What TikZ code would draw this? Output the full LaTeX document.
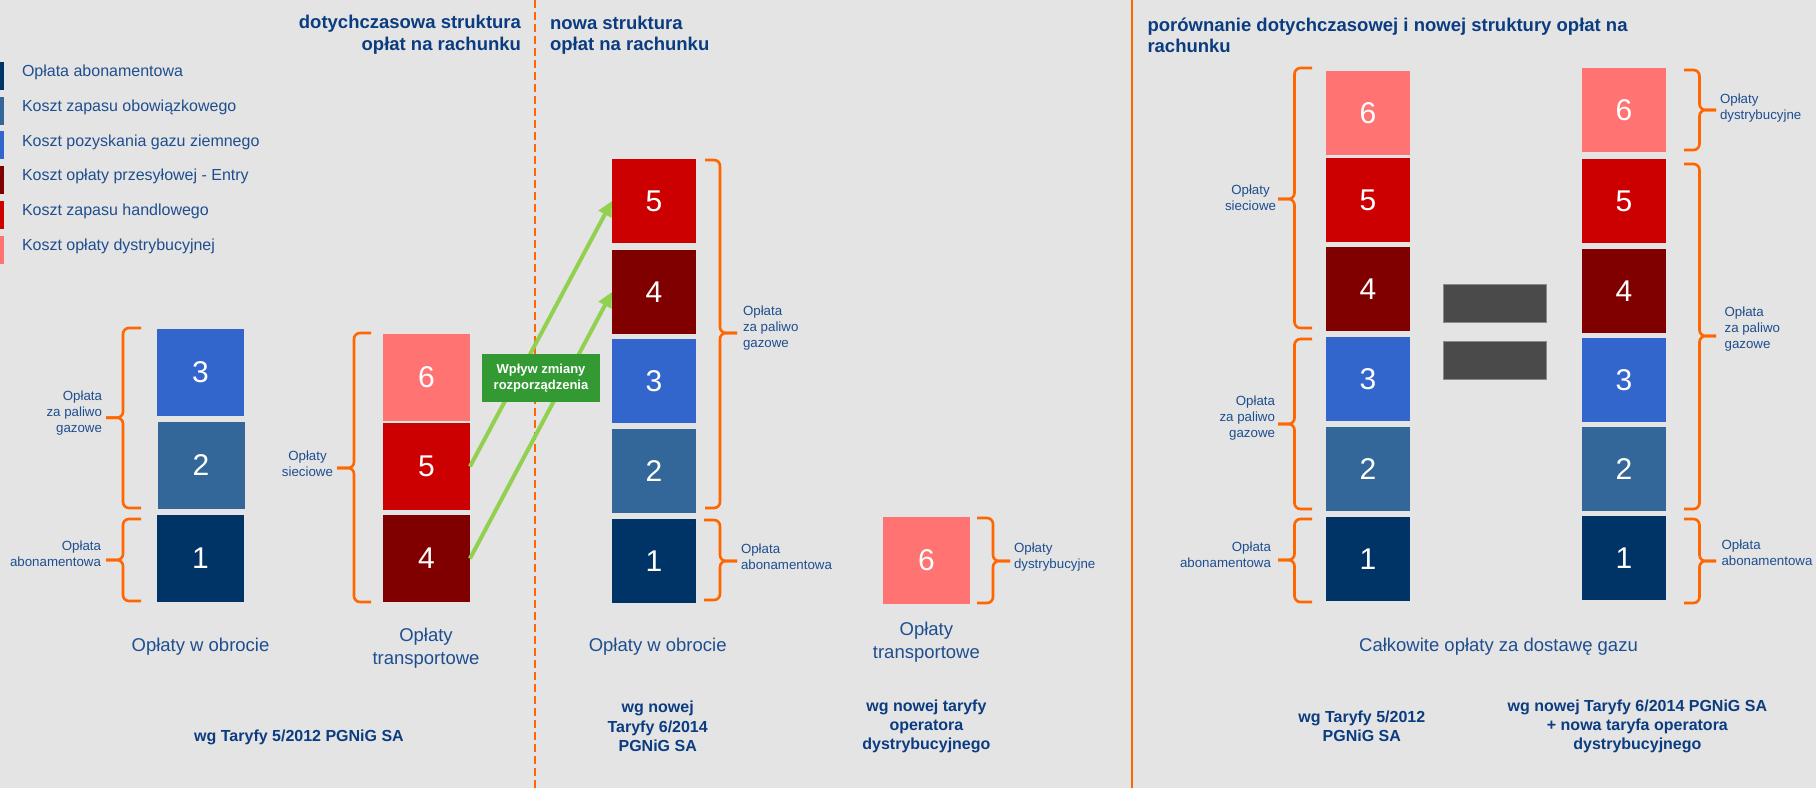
\documentclass[tikz,border=0pt]{standalone}
\usepackage{fontspec}
\setmainfont{Liberation Sans}
\usetikzlibrary{arrows.meta}
\definecolor{bg}{HTML}{E4E4E4}
\definecolor{cA}{HTML}{003366}
\definecolor{cB}{HTML}{336699}
\definecolor{cC}{HTML}{3366CC}
\definecolor{cD}{HTML}{800000}
\definecolor{cE}{HTML}{CC0000}
\definecolor{cF}{HTML}{FF7373}
\definecolor{orng}{HTML}{FF6600}
\definecolor{tblue}{HTML}{1F4E8F}
\definecolor{hblue}{HTML}{0B3C80}
\definecolor{gbox}{HTML}{339933}
\definecolor{garr}{HTML}{92D050}
\definecolor{eqg}{HTML}{4A4A4A}
\definecolor{eqb}{HTML}{8A8A8A}
\newcommand{\curly}[6]{%
  \draw[brc] (#2,#3) -- (#1,#3) -- (#1,#6) -- (#5,#6);
  \draw[brc] (#5,#6) -- (#1,#6) -- (#1,#4) -- (#2,#4);}
\begin{document}
\begin{tikzpicture}[x=1pt,y=-1pt,
  every node/.style={inner sep=0pt, outer sep=0pt},
  box/.style={minimum width=87pt, minimum height=87pt, text=white, font=\fontsize{30}{30}\selectfont},
  sbox/.style={box, minimum width=84pt, minimum height=84pt},
  lgd/.style={anchor=west, text=tblue, font=\fontsize{16}{19}\selectfont},
  ttl/.style={text=hblue, font=\bfseries\fontsize{18.5}{21.7}\selectfont},
  lbl/.style={text=tblue, font=\fontsize{13.3}{16}\selectfont},
  captxt/.style={text=tblue, font=\fontsize{18.5}{23}\selectfont, align=center},
  src/.style={text=hblue, font=\bfseries\fontsize{16}{19.2}\selectfont, align=center},
  brc/.style={draw=orng, line width=2.6pt, rounded corners=6pt},
  arr/.style={draw=garr, line width=4pt, -{Triangle[length=15pt,width=14pt]}},
  eqbar/.style={fill=eqg, draw=eqb, line width=1pt, minimum width=103pt, minimum height=38pt},
]
\fill[bg] (0,0) rectangle (1816,788);
\useasboundingbox (0,0) rectangle (1816,788);

% separators
\coordinate (s1t) at (535,0); \coordinate (s1b) at (535,788);
\coordinate (s2t) at (1132,0); \coordinate (s2b) at (1132,788);
\draw[orng, line width=2.6pt, dash pattern=on 8pt off 4pt] (s1t) -- (s1b);
\draw[orng, line width=2.6pt] (s2t) -- (s2b);

% titles
\node[ttl, anchor=east, align=right] (t1) at (521,34.8) {dotychczasowa struktura\\opłat na rachunku};
\node[ttl, anchor=west, align=left] (t2) at (550,35.3) {nowa struktura\\opłat na rachunku};
\node[ttl, anchor=west, align=left] (t3) at (1147.5,35.3) {porównanie dotychczasowej i nowej struktury opłat na\\rachunku};

% legend
\fill[cA] (0,62) rectangle (4,90);
\fill[cB] (0,96.7) rectangle (4,124.7);
\fill[cC] (0,131.4) rectangle (4,159.4);
\fill[cD] (0,166.1) rectangle (4,194.1);
\fill[cE] (0,200.8) rectangle (4,228.8);
\fill[cF] (0,235.5) rectangle (4,263.5);
\node[lgd] (g1) at (22,72.5) {Opłata abonamentowa};
\node[lgd] (g2) at (22,107.2) {Koszt zapasu obowiązkowego};
\node[lgd] (g3) at (22,141.9) {Koszt pozyskania gazu ziemnego};
\node[lgd] (g4) at (22,176.6) {Koszt opłaty przesyłowej - Entry};
\node[lgd] (g5) at (22,211.3) {Koszt zapasu handlowego};
\node[lgd] (g6) at (22,246) {Koszt opłaty dystrybucyjnej};

% column 1
\node[box, fill=cC] (b3) at (200.5,372.5) {3};
\node[box, fill=cB] (b2) at (201,465.5) {2};
\node[box, fill=cA] (b1) at (200.5,558.5) {1};
% column 2
\node[box, fill=cF] (c6) at (426.5,377.5) {6};
\node[box, fill=cE] (c5) at (426.5,466.5) {5};
\node[box, fill=cD] (c4) at (426.5,558.5) {4};
% column 3
\node[sbox, fill=cE] (d5) at (654,201) {5};
\node[sbox, fill=cD] (d4) at (654,292) {4};
\node[sbox, fill=cC] (d3) at (654,381) {3};
\node[sbox, fill=cB] (d2) at (654,471) {2};
\node[sbox, fill=cA] (d1) at (654,561) {1};
% column 4
\node[box, fill=cF] (e6) at (926.5,560) {6};
% column 5
\node[sbox, fill=cF] (f6) at (1368,113) {6};
\node[sbox, fill=cE] (f5) at (1368,200) {5};
\node[sbox, fill=cD] (f4) at (1368,289) {4};
\node[sbox, fill=cC] (f3) at (1368,379) {3};
\node[sbox, fill=cB] (f2) at (1368,469) {2};
\node[sbox, fill=cA] (f1) at (1368,559) {1};
% column 6
\node[sbox, fill=cF] (h6) at (1624,110) {6};
\node[sbox, fill=cE] (h5) at (1624,201) {5};
\node[sbox, fill=cD] (h4) at (1624,291) {4};
\node[sbox, fill=cC] (h3) at (1624,380) {3};
\node[sbox, fill=cB] (h2) at (1624,469) {2};
\node[sbox, fill=cA] (h1) at (1624,558) {1};

% equals sign
\node[eqbar] (eq1) at (1494.5,303.3) {};
\node[eqbar] (eq2) at (1494.5,360.2) {};

% braces
\curly{123}{141}{328}{508}{106}{417.7}
\curly{123}{141}{519}{601}{106}{560}
\curly{354}{371}{333}{602}{337}{468}
\curly{720}{705}{160}{508}{737}{333}
\curly{720}{704}{520}{600}{737}{561}
\curly{993}{977}{518}{603}{1010}{561}
\curly{1294.5}{1312}{68}{328}{1278}{199}
\curly{1294.5}{1312}{339}{509}{1278}{424}
\curly{1294.5}{1312}{519}{602}{1278}{560}
\curly{1699.5}{1684}{70}{150}{1716}{110}
\curly{1699.5}{1684}{164}{509}{1716}{336}
\curly{1699.5}{1684}{519}{603}{1716}{561}

% brace labels
\node[lbl, align=right, anchor=east] (l1) at (102,412.7) {Opłata\\za paliwo\\gazowe};
\node[lbl, align=right, anchor=east] (l2) at (101,553.5) {Opłata\\abonamentowa};
\node[lbl, align=center, anchor=east] (l3) at (333,463.5) {Opłaty\\sieciowe};
\node[lbl, align=left, anchor=west] (l4) at (743,328.3) {Opłata\\za paliwo\\gazowe};
\node[lbl, align=left, anchor=west] (l5) at (741,557) {Opłata\\abonamentowa};
\node[lbl, align=left, anchor=west] (l6) at (1014,557) {Opłaty\\dystrybucyjne};
\node[lbl, align=center, anchor=east] (l7) at (1276,198) {Opłaty\\sieciowe};
\node[lbl, align=right, anchor=east] (l8) at (1275,418) {Opłata\\za paliwo\\gazowe};
\node[lbl, align=right, anchor=east] (l9) at (1271,554.7) {Opłata\\abonamentowa};
\node[lbl, align=left, anchor=west] (l10) at (1720,107.7) {Opłaty\\dystrybucyjne};
\node[lbl, align=left, anchor=west] (l11) at (1724.6,328.7) {Opłata\\za paliwo\\gazowe};
\node[lbl, align=left, anchor=west] (l12) at (1721.5,552.7) {Opłata\\abonamentowa};

% arrows and change box
\draw[arr] (c5.east) -- (d5.west);
\draw[arr] (c4.east) -- (d4.west);
\node[fill=gbox, minimum width=118pt, minimum height=48pt, text=white,
      font=\bfseries\fontsize{13}{15.7}\selectfont, align=center] (wp) at (541,378) {Wpływ zmiany\\rozporządzenia};

% captions
\node[captxt] (k1) at (200.5,646.7) {Opłaty w obrocie};
\node[captxt] (k2) at (426,648.5) {Opłaty\\transportowe};
\node[captxt] (k3) at (657.7,646.7) {Opłaty w obrocie};
\node[captxt] (k4) at (926.4,642) {Opłaty\\transportowe};
\node[captxt] (k5) at (1498.5,646.7) {Całkowite opłaty za dostawę gazu};

% sources
\node[src] (r1) at (299,737.3) {wg Taryfy 5/2012 PGNiG SA};
\node[src] (r2) at (657.7,726.3) {wg nowej\\Taryfy 6/2014\\PGNiG SA};
\node[src] (r3) at (926.4,726.3) {wg nowej taryfy\\operatora\\dystrybucyjnego};
\node[src] (r4) at (1361.8,726.3) {wg Taryfy 5/2012\\PGNiG SA};
\node[src] (r5) at (1637.4,726.3) {wg nowej Taryfy 6/2014 PGNiG SA\\+ nowa taryfa operatora\\dystrybucyjnego};
\end{tikzpicture}
\end{document}
